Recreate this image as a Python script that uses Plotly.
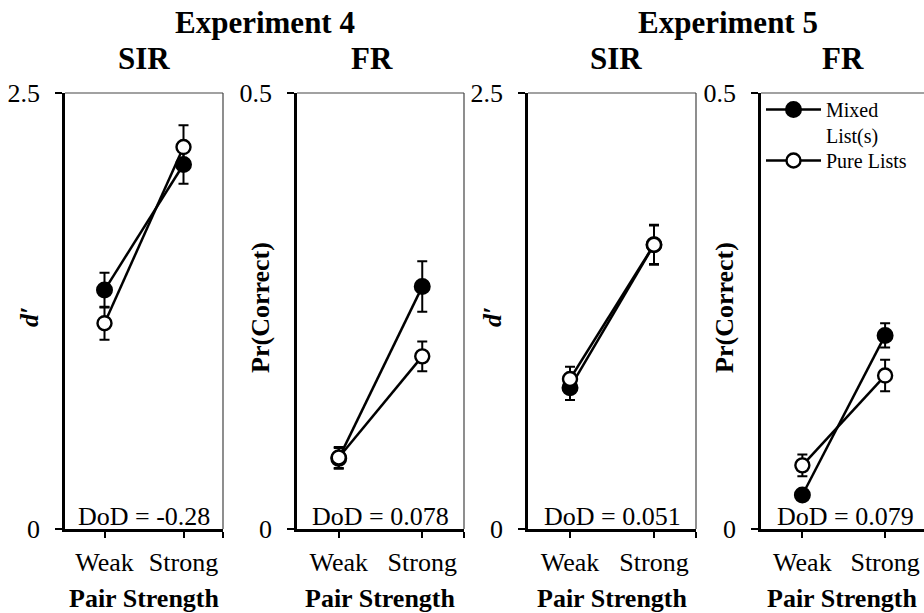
import plotly.graph_objects as go

# ---------------- data ----------------
categories = ["Weak", "Strong"]

exp4_sir_mixed = [1.37, 2.09]
exp4_sir_mixed_err = [0.10, 0.11]
exp4_sir_pure = [1.18, 2.19]
exp4_sir_pure_err = [0.095, 0.125]

exp4_fr_mixed = [0.081, 0.278]
exp4_fr_mixed_err = [0.012, 0.029]
exp4_fr_pure = [0.082, 0.198]
exp4_fr_pure_err = [0.012, 0.017]

exp5_sir_mixed = [0.81, 1.63]
exp5_sir_mixed_err = [0.07, 0.11]
exp5_sir_pure = [0.86, 1.63]
exp5_sir_pure_err = [0.07, 0.115]

exp5_fr_mixed = [0.039, 0.222]
exp5_fr_mixed_err = [0.005, 0.014]
exp5_fr_pure = [0.073, 0.176]
exp5_fr_pure_err = [0.0125, 0.018]

panel_titles = ["SIR", "FR", "SIR", "FR"]
experiment_titles = ["Experiment 4", "Experiment 5"]
dod_labels = ["DoD = -0.28", "DoD = 0.078", "DoD = 0.051", "DoD = 0.079"]
y_titles = ["<b><i>d′</i></b>", "<b>Pr(Correct)</b>", "<b><i>d′</i></b>", "<b>Pr(Correct)</b>"]
y_max = [2.5, 0.5, 2.5, 0.5]
y_ticktext = [["0", "2.5"], ["0", "0.5"], ["0", "2.5"], ["0", "0.5"]]
series_names = ["Mixed<br>List(s)", "Pure Lists"]

panels = [
    (exp4_sir_mixed, exp4_sir_mixed_err, exp4_sir_pure, exp4_sir_pure_err),
    (exp4_fr_mixed, exp4_fr_mixed_err, exp4_fr_pure, exp4_fr_pure_err),
    (exp5_sir_mixed, exp5_sir_mixed_err, exp5_sir_pure, exp5_sir_pure_err),
    (exp5_fr_mixed, exp5_fr_mixed_err, exp5_fr_pure, exp5_fr_pure_err),
]

# ---------------- layout geometry ----------------
W, H = 924, 613
x_domains = [[65 / W, 223 / W], [297 / W, 464 / W], [528 / W, 696 / W], [761 / W, 1.0]]
y_domain = [(H - 529) / H, (H - 93) / H]
FONT = "Liberation Serif"
title_shift = [0, -9, 4, 0]
ytitle_pos = [0.486, 0.507, 0.486, 0.507]

xpos = list(range(len(categories)))

fig = go.Figure()

for i, (m, me, p, pe) in enumerate(panels):
    xa = "x" if i == 0 else f"x{i+1}"
    ya = "y" if i == 0 else f"y{i+1}"
    fig.add_trace(go.Scatter(
        x=xpos, y=m, xaxis=xa, yaxis=ya, mode="lines+markers",
        name=series_names[0], legend="legend", showlegend=(i == 3),
        line=dict(color="black", width=2.5),
        marker=dict(symbol="circle", size=15, color="black",
                    line=dict(color="black", width=2)),
        error_y=dict(type="data", array=me, visible=True, color="black",
                     thickness=2, width=5),
    ))
    fig.add_trace(go.Scatter(
        x=xpos, y=p, xaxis=xa, yaxis=ya, mode="lines+markers",
        name=series_names[1], legend="legend2", showlegend=(i == 3),
        line=dict(color="black", width=2.5),
        marker=dict(symbol="circle", size=14, color="white",
                    line=dict(color="black", width=2.4)),
        error_y=dict(type="data", array=pe, visible=True, color="black",
                     thickness=2, width=5),
    ))

annotations = []
shapes = []
for i in range(4):
    sfx = "" if i == 0 else str(i + 1)
    xr = [-0.5, len(categories) - 0.5]
    if i == 3:
        xr = [-0.5, 1.47]
    fig.layout[f"xaxis{sfx}"] = dict(
        domain=x_domains[i], range=xr, anchor=f"y{sfx}",
        tickmode="array",
        tickvals=xpos + [len(categories) - 0.5],
        ticktext=categories + [""],
        ticks="outside", ticklen=6, tickwidth=1.8, tickcolor="black",
        showline=True, linecolor="black", linewidth=2.5,
        showgrid=False, zeroline=False, automargin=False,
        tickfont=dict(family=FONT, size=26, color="black"),
        ticklabelstandoff=2,
        fixedrange=True,
    )
    fig.layout[f"yaxis{sfx}"] = dict(
        domain=y_domain, range=[0, y_max[i]], anchor=f"x{sfx}",
        tickmode="array", tickvals=[0, y_max[i]], ticktext=y_ticktext[i],
        ticks="outside", ticklen=7, tickwidth=1.8, tickcolor="black",
        showline=True, linecolor="black", linewidth=2.5,
        showgrid=False, zeroline=False, automargin=False,
        tickfont=dict(family=FONT, size=26, color="black"),
        ticklabelstandoff=10,
        fixedrange=True,
    )
    # thin top / right frame
    shapes.append(dict(type="line", xref=f"x{sfx} domain", yref=f"y{sfx} domain",
                       x0=0, x1=1, y0=1, y1=1, line=dict(color="#444444", width=1.2)))
    if i < 3:
        shapes.append(dict(type="line", xref=f"x{sfx} domain", yref=f"y{sfx} domain",
                           x0=1, x1=1, y0=0, y1=1, line=dict(color="#444444", width=1.2)))
    # panel title
    annotations.append(dict(text=f"<b>{panel_titles[i]}</b>", xref=f"x{sfx} domain",
                            yref="paper", x=0.5, y=(H - 58) / H, showarrow=False,
                            xanchor="center", yanchor="middle", xshift=title_shift[i],
                            font=dict(family=FONT, size=31, color="black")))
    # DoD text
    annotations.append(dict(text=dod_labels[i], xref=f"x{sfx} domain",
                            yref=f"y{sfx} domain", x=0.5 if i < 3 else 0.52, y=0,
                            showarrow=False, xanchor="center", yanchor="bottom",
                            yshift=-4,
                            font=dict(family=FONT, size=26, color="black")))
    # y title
    annotations.append(dict(text=y_titles[i], xref=f"x{sfx} domain",
                            yref=f"y{sfx} domain", x=0, y=ytitle_pos[i],
                            xshift=-36, showarrow=False, textangle=-90,
                            xanchor="center", yanchor="middle",
                            font=dict(family=FONT, size=26, color="black")))
    # x title
    annotations.append(dict(text="<b>Pair Strength</b>", xref=f"x{sfx} domain",
                            yref=f"y{sfx} domain", x=0.5, y=0,
                            yshift=-69, showarrow=False,
                            xanchor="center", yanchor="middle",
                            font=dict(family=FONT, size=26, color="black")))

for j, t in enumerate(experiment_titles):
    a, b = (0, 1) if j == 0 else (2, 3)
    xc = (x_domains[a][0] + (x_domains[b][1] if b < 3 else 927 / W)) / 2
    annotations.append(dict(text=f"<b>{t}</b>", xref="paper", yref="paper",
                            x=xc, y=(H - 22) / H, showarrow=False,
                            xanchor="center", yanchor="middle",
                            font=dict(family=FONT, size=31, color="black")))

legend_common = dict(xanchor="left", yanchor="top", bgcolor="rgba(0,0,0,0)",
                     itemwidth=55, valign="top",
                     font=dict(family=FONT, size=20, color="black"))

fig.update_layout(
    width=W, height=H,
    margin=dict(l=0, r=0, t=0, b=0, autoexpand=False),
    paper_bgcolor="white", plot_bgcolor="white",
    font=dict(family=FONT, size=20, color="black"),
    annotations=annotations, shapes=shapes,
    showlegend=True,
    legend=dict(x=761 / W, y=(H - 90) / H, **legend_common),
    legend2=dict(x=761 / W, y=(H - 141) / H, **legend_common),
)

fig.write_html("out.html")
